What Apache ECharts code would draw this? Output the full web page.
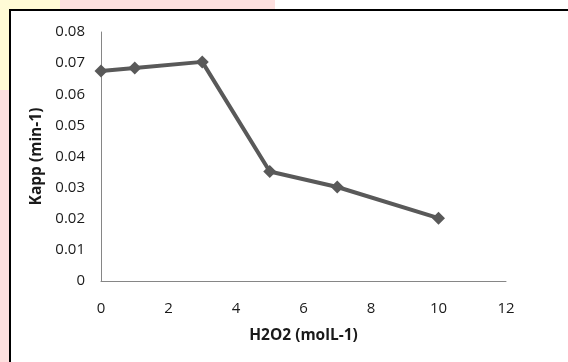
<!DOCTYPE html>
<html>
<head>
<meta charset="utf-8">
<script src="https://cdn.jsdelivr.net/npm/echarts@6/dist/echarts.min.js"></script>
<style>
html,body{margin:0;padding:0;}
#c{width:568px;height:362px;}
</style>
</head>
<body>
<div id="c"></div>
<script>
var h2o2 = [0, 1, 3, 5, 7, 10];
var kapp = [0.0675, 0.0684, 0.0704, 0.0352, 0.0302, 0.0202];
var xTicks = [0, 2, 4, 6, 8, 10, 12];
var yTicks = [0, 0.01, 0.02, 0.03, 0.04, 0.05, 0.06, 0.07, 0.08];

var chart = echarts.init(document.getElementById('c'), null, {renderer: 'canvas'});
var fontFam = '"Open Sans", "Liberation Sans", sans-serif';
chart.setOption({
  backgroundColor: '#fffbd6',
  animation: false,
  graphic: [
    {type: 'rect', left: 0, top: 90, shape: {width: 9, height: 272}, style: {fill: '#fde0df'}, z: -10},
    {type: 'rect', left: 60, top: 0, shape: {width: 215, height: 9}, style: {fill: '#fde0df'}, z: -10},
    {type: 'rect', left: 275, top: 0, shape: {width: 293, height: 9}, style: {fill: '#ffffff'}, z: -10},
    {type: 'rect', left: 9, top: 9, shape: {width: 570, height: 360}, style: {fill: '#ffffff', stroke: '#000000', lineWidth: 2}, z: -5}
  ],
  grid: {left: 101, top: 32, right: 62, bottom: 81},
  xAxis: {
    type: 'value',
    min: xTicks[0], max: xTicks[xTicks.length - 1], interval: 2,
    name: 'H2O2 (molL-1)',
    nameLocation: 'middle',
    nameGap: 47,
    nameTextStyle: {fontFamily: fontFam, fontWeight: 'bold', fontSize: 15.5, color: '#1a1a1a'},
    axisLine: {show: true, lineStyle: {color: '#868686', width: 1}},
    axisTick: {show: false},
    splitLine: {show: false},
    axisLabel: {margin: 20, fontFamily: fontFam, fontSize: 15, color: '#1a1a1a'}
  },
  yAxis: {
    type: 'value',
    min: yTicks[0], max: yTicks[yTicks.length - 1], interval: 0.01,
    name: 'Kapp (min-1)',
    nameLocation: 'middle',
    nameGap: 55,
    nameTextStyle: {fontFamily: fontFam, fontWeight: 'bold', fontSize: 15.5, color: '#1a1a1a'},
    axisLine: {show: true, lineStyle: {color: '#868686', width: 1}},
    axisTick: {show: false},
    splitLine: {show: false},
    axisLabel: {margin: 16, fontFamily: fontFam, fontSize: 15, color: '#1a1a1a',
      formatter: function (v) { return String(Math.round(v * 100) / 100); }}
  },
  series: [{
    type: 'line',
    data: h2o2.map(function (x, i) { return [x, kapp[i]]; }),
    lineStyle: {color: '#595959', width: 4},
    itemStyle: {color: '#595959'},
    symbol: 'diamond',
    symbolSize: 13
  }]
});
</script>
</body>
</html>
